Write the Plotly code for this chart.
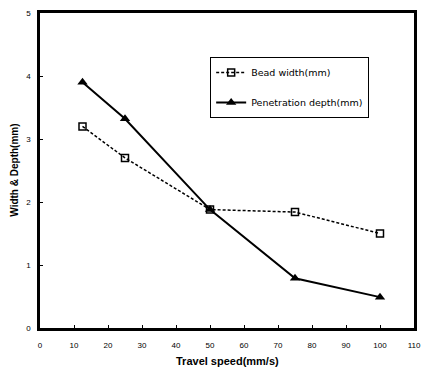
import plotly.graph_objects as go

speed = [12.5, 25, 50, 75, 100]
bead_width = [3.2, 2.7, 1.88, 1.84, 1.5]
pen_depth = [3.9, 3.32, 1.88, 0.79, 0.49]
x_ticks = [0, 10, 20, 30, 40, 50, 60, 70, 80, 90, 100, 110]
y_ticks = [0, 1, 2, 3, 4, 5]

fig = go.Figure()
fig.add_trace(go.Scatter(
    x=speed, y=bead_width, name="Bead width(mm)", mode="lines+markers",
    legendgroup="a",
    line=dict(color="black", width=1.5, dash="3px,2px"),
    marker=dict(symbol="square-open", size=7, color="black", line=dict(width=1.5, color="black")),
))
fig.add_trace(go.Scatter(
    x=speed, y=pen_depth, name="Penetration depth(mm)", mode="lines+markers",
    legendgroup="b",
    line=dict(color="black", width=2),
    marker=dict(symbol="triangle-up", size=9, color="black"),
))

font_fam = "Liberation Sans, Arial, sans-serif"
fig.update_layout(
    width=421, height=370,
    margin=dict(l=40, r=7, t=13, b=42, autoexpand=False),
    paper_bgcolor="white", plot_bgcolor="white",
    font=dict(family=font_fam, size=8, color="black"),
    showlegend=True,
    legend=dict(
        x=0.455, y=0.86, xanchor="left", yanchor="top",
        bordercolor="black", borderwidth=1, bgcolor="white",
        font=dict(size=9.5, family="DejaVu Sans, sans-serif"),
        tracegroupgap=11, itemwidth=30,
    ),
    xaxis=dict(
        range=[0, 110], tickvals=x_ticks, ticktext=[str(v) for v in x_ticks],
        showgrid=False, zeroline=False, automargin=False,
        showline=True, linecolor="black", linewidth=2.5, mirror=True,
        ticks="inside", ticklen=3, tickcolor="black", tickwidth=1,
        ticklabelstandoff=8,
        tickfont=dict(size=8),
    ),
    yaxis=dict(
        range=[0, 5], tickvals=y_ticks, ticktext=[str(v) for v in y_ticks],
        showgrid=False, zeroline=False, automargin=False,
        showline=True, linecolor="black", linewidth=2.5, mirror=True,
        ticks="inside", ticklen=3, tickcolor="black", tickwidth=1,
        ticklabelstandoff=5,
        tickfont=dict(size=8),
    ),
    annotations=[
        dict(text="<b>Travel speed(mm/s)</b>", xref="paper", yref="paper",
             x=0.5, y=-0.105, xanchor="center", yanchor="middle",
             showarrow=False, font=dict(size=11)),
        dict(text="<b>Width & Depth(mm)</b>", xref="paper", yref="paper",
             x=-0.069, y=0.5, xanchor="center", yanchor="middle", textangle=-90,
             showarrow=False, font=dict(size=10)),
    ],
)

fig.write_html("out.html", config={"displayModeBar": False},
               post_script="document.body.style.margin='0';")
